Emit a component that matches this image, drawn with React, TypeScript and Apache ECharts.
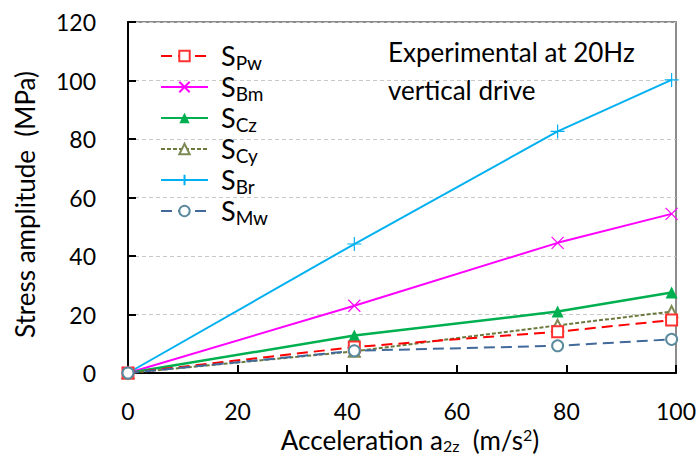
import React, { useEffect, useRef } from "react";
import * as echarts from "echarts";

const xTicks = [0, 20, 40, 60, 80, 100];
const seriesNames = ["SPw", "SBm", "SCz", "SCy", "SBr", "SMw"];
const accel = [0, 41.3, 78.4, 99.2];
const sPw = [0, 8.9, 14.1, 18.1];
const sBm = [0, 23.0, 44.5, 54.4];
const sCz = [0, 12.8, 21.0, 27.5];
const sCy = [0, 7.4, 16.3, 21.0];
const sBr = [0, 44.1, 82.6, 100.2];
const sMw = [0, 7.6, 9.3, 11.5];

const FONT = "Lato";

const pairs = (ys: number[]) => accel.map((x, i) => [x, ys[i]]);

export default function App() {
  const ref = useRef<HTMLDivElement>(null);
  useEffect(() => {
    if (!ref.current) return;
    const chart = echarts.init(ref.current, null, { renderer: "svg" });
    const crossPath = "path://M0,0L10,10M10,0L0,10";
    const plusPath = "path://M5,0L5,10M0,5L10,5";
    chart.setOption({
      animation: false,
      backgroundColor: "#fff",
      textStyle: { fontFamily: FONT },
      grid: {
        left: 128,
        right: 22,
        top: 22,
        bottom: 94,
        show: true,
        borderColor: "#8c8c8c",
        borderWidth: 2,
        backgroundColor: "transparent",
      },
      legend: {
        orient: "vertical",
        left: 155,
        top: 37,
        itemWidth: 47,
        itemHeight: 13,
        itemGap: 1,
        data: seriesNames,
        formatter: (name: string) => `{s|S}{sub|${name.slice(1)}}`,
        textStyle: {
          rich: {
            s: { fontSize: 27, fontFamily: FONT, color: "#000", lineHeight: 28, verticalAlign: "top", padding: [0, 0, 0, 8] },
            sub: { fontSize: 19, fontFamily: FONT, color: "#000", lineHeight: 19, verticalAlign: "top", padding: [11, 0, 0, 0] },
          },
        },
      },
      graphic: [
        {
          type: "text",
          left: 388,
          top: 33,
          style: {
            text: "Experimental at 20Hz\nvertical drive",
            fontSize: 26,
            lineHeight: 38,
            fontFamily: FONT,
            fill: "#000",
          },
        },
      ],
      xAxis: {
        type: "value",
        min: xTicks[0],
        max: xTicks[xTicks.length - 1],
        interval: 20,
        name: "Acceleration a{sub|2z}  (m/s{sup|2})",
        nameLocation: "middle",
        nameGap: 53,
        nameTextStyle: {
          fontSize: 26,
          fontFamily: FONT,
          color: "#000",
          padding: [0, 0, 0, 16],
          rich: {
            sub: { fontSize: 16, fontFamily: FONT, color: "#000", padding: [11, 0, 0, 0] },
            sup: { fontSize: 16, fontFamily: FONT, color: "#000", padding: [0, 0, 11, 0] },
          },
        },
        axisLine: { show: true, onZero: false, lineStyle: { color: "#000", width: 2 } },
        axisTick: { show: true, inside: true, length: 8, lineStyle: { color: "#000", width: 2 } },
        axisLabel: { fontSize: 23, color: "#000", margin: 26, fontFamily: FONT },
        splitLine: { show: false },
      },
      yAxis: {
        type: "value",
        min: 0,
        max: 120,
        interval: 20,
        name: "Stress amplitude  (MPa)",
        nameLocation: "middle",
        nameGap: 90,
        nameTextStyle: { fontSize: 26, color: "#000", fontFamily: FONT, padding: [0, 14, 0, 0] },
        axisLine: { show: true, lineStyle: { color: "#000", width: 2 } },
        axisTick: { show: true, inside: true, length: 8, lineStyle: { color: "#000", width: 2 } },
        axisLabel: { fontSize: 23, color: "#000", margin: 32, fontFamily: FONT },
        splitLine: { show: true, lineStyle: { color: "#c8c8c8", type: [4, 3], width: 1 } },
      },
      series: [
        {
          name: seriesNames[0],
          type: "line",
          data: pairs(sPw),
          symbol: "emptyRect",
          symbolSize: 11,
          lineStyle: { color: "#FF0000", width: 2, type: [11, 6] },
          itemStyle: { color: "#FF3030", borderWidth: 1.2 },
          z: 6,
        },
        {
          name: seriesNames[1],
          type: "line",
          data: pairs(sBm),
          symbol: crossPath,
          symbolSize: 12,
          lineStyle: { color: "#FF00FF", width: 2 },
          itemStyle: { color: "#FF00FF", borderColor: "#FF00FF", borderWidth: 1.2 },
          z: 3,
        },
        {
          name: seriesNames[2],
          type: "line",
          data: pairs(sCz),
          symbol: "triangle",
          symbolSize: 12,
          lineStyle: { color: "#00B050", width: 2.5 },
          itemStyle: { color: "#00B050" },
          z: 4,
        },
        {
          name: seriesNames[3],
          type: "line",
          data: pairs(sCy),
          symbol: "emptyTriangle",
          symbolSize: 11,
          lineStyle: { color: "#6B7A3C", width: 2, type: [4, 2] },
          itemStyle: { color: "#7E8A55", borderWidth: 1.2 },
          z: 5,
        },
        {
          name: seriesNames[4],
          type: "line",
          data: pairs(sBr),
          symbol: plusPath,
          symbolSize: 14,
          lineStyle: { color: "#00B0F0", width: 2 },
          itemStyle: { color: "#00B0F0", borderColor: "#00B0F0", borderWidth: 1.2 },
          z: 2,
        },
        {
          name: seriesNames[5],
          type: "line",
          data: pairs(sMw),
          symbol: "emptyCircle",
          symbolSize: 11,
          lineStyle: { color: "#41699B", width: 2, type: [11, 6] },
          itemStyle: { color: "#5B8A9E", borderWidth: 1.2 },
          z: 7,
        },
      ],
    });
    return () => chart.dispose();
  }, []);
  return <div ref={ref} style={{ width: 699, height: 467, position: "absolute", left: 0, top: 0 }} />;
}
